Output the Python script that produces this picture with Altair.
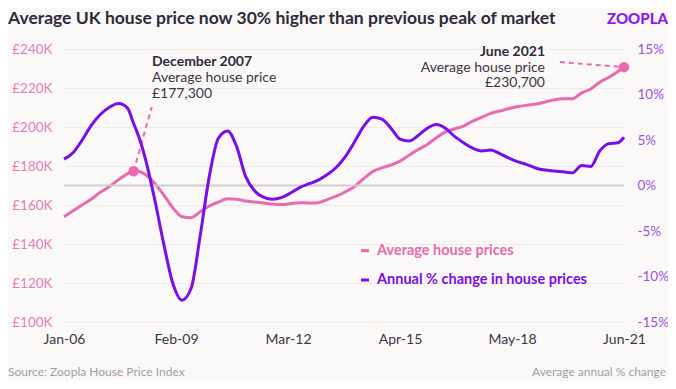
import altair as alt
import pandas as pd

# ---- data (month index: 0 = Jan-06, 185 = Jun-21) ----
months = [0, 3, 6, 9, 12, 15, 18, 21, 23, 24, 27, 30, 33, 36, 39, 42, 45, 48, 51, 54,
          57, 60, 63, 66, 69, 72, 75, 78, 81, 84, 87, 90, 93, 96, 99, 102, 105, 108,
          111, 114, 117, 120, 123, 126, 129, 132, 135, 138, 141, 144, 147, 150, 153,
          156, 159, 162, 165, 168, 171, 174, 177, 180, 183, 185]
price_k = [154.0, 157.0, 160.0, 163.0, 166.5, 169.5, 173.0, 176.0, 177.3, 177.5, 175.5,
           171.0, 165.0, 158.5, 154.0, 153.5, 156.5, 159.5, 161.5, 163.2, 163.0, 162.0,
           161.5, 161.0, 160.5, 160.2, 160.8, 161.2, 161.0, 161.2, 162.8, 164.5, 166.8,
           169.5, 173.5, 177.1, 179.0, 180.5, 182.5, 185.5, 188.5, 191.0, 194.5, 197.5,
           199.0, 200.5, 203.0, 205.0, 207.0, 208.2, 209.5, 210.5, 211.2, 211.8, 212.8,
           214.0, 214.5, 214.5, 217.5, 219.5, 223.0, 225.5, 228.5, 230.7]
annual_pct = [2.9, 3.6, 5.0, 6.6, 7.8, 8.6, 9.0, 8.5, 6.8, 6.0, 2.8, -1.6, -6.5, -10.8,
              -12.6, -11.3, -5.5, 1.0, 5.2, 6.0, 4.3, 1.0, -0.6, -1.3, -1.5, -1.3, -0.8,
              -0.2, 0.2, 0.6, 1.2, 2.0, 3.2, 4.8, 6.5, 7.5, 7.3, 6.3, 5.1, 4.9, 5.5, 6.3,
              6.7, 6.3, 5.4, 4.7, 4.1, 3.8, 3.9, 3.5, 3.0, 2.6, 2.3, 1.9, 1.7, 1.6, 1.5,
              1.4, 2.2, 2.1, 3.8, 4.6, 4.7, 5.3]

tick_months = [0, 37, 74, 111, 148, 185]
tick_labels = ["Jan-06", "Feb-09", "Mar-12", "Apr-15", "May-18", "Jun-21"]
price_ticks = [100, 120, 140, 160, 180, 200, 220, 240]
pct_ticks = [-15, -10, -5, 0, 5, 10, 15]

# annotation points: Dec-07 and Jun-21
dec_point_m, dec_point_p = [23], [177.3]
jun_point_m, jun_point_p = [185], [230.7]
dec_leader_m, dec_leader_p = [23, 29], [177.3, 210.3]
jun_leader_m, jun_leader_p = [163.8, 185], [233.3, 230.7]

PINK = "#E86BB0"
PURPLE = "#7A0EE6"
FONT = "Lato"

df = pd.DataFrame({"m": months, "price": price_k, "pct": annual_pct})

label_arr = "[" + ",".join("'%s'" % t for t in tick_labels) + "]"
x_scale = alt.Scale(domain=[0, 185], nice=False, zero=False)
x_axis = alt.Axis(values=tick_months, labelExpr=label_arr + "[round(datum.value/37)]",
                  title=None, domain=False, ticks=False, grid=False, labelPadding=10,
                  labelFlush=False, labelOverlap=False,
                  labelColor="#3B3547", labelFontSize=14, labelFont=FONT, orient="bottom")
p_scale = alt.Scale(domain=[100, 240], nice=False, zero=False)
p_axis = alt.Axis(values=price_ticks, labelExpr="'£' + datum.value + 'K'", title=None,
                  domain=False, ticks=False, grid=True, gridColor="#EEEBEA", gridWidth=1,
                  labelPadding=12, labelColor="#E57DB7", labelFontSize=13.5, labelFont=FONT,
                  labelFlush=False, orient="left")
c_scale = alt.Scale(domain=[-15, 15], nice=False, zero=False)
c_axis = alt.Axis(values=pct_ticks, labelExpr="datum.value + '%'", title=None,
                  domain=False, ticks=False, grid=False, labelPadding=13, labelFlush=False,
                  labelColor="#9A52E2", labelFontSize=13.5, labelFont=FONT, orient="right")

X = alt.X("m:Q", scale=x_scale, axis=x_axis)
YP = alt.Y("price:Q", scale=p_scale, axis=p_axis)
YC = alt.Y("pct:Q", scale=c_scale, axis=c_axis)

price_line = alt.Chart(df).mark_line(color=PINK, strokeWidth=3, interpolate="monotone").encode(
    x=X, y=YP)

def pts(ms, ps):
    return pd.DataFrame({"m": ms, "price": ps})

dec_leader = alt.Chart(pts(dec_leader_m, dec_leader_p)).mark_line(
    color=PINK, strokeWidth=2, strokeDash=[5, 4]).encode(x=X, y=YP)
jun_leader = alt.Chart(pts(jun_leader_m, jun_leader_p)).mark_line(
    color=PINK, strokeWidth=2, strokeDash=[5, 4]).encode(x=X, y=YP)
dots = alt.Chart(pts(dec_point_m + jun_point_m, dec_point_p + jun_point_p)).mark_circle(
    color=PINK, size=110, opacity=1).encode(x=X, y=YP)

zero_df = pd.DataFrame({"pct": [0]})
zero_rule = alt.Chart(zero_df).mark_rule(color="#D0CECD", strokeWidth=2).encode(y=YC)
pct_line = alt.Chart(df).mark_line(color=PURPLE, strokeWidth=3, interpolate="monotone").encode(
    x=X, y=YC)

one = pd.DataFrame({"a": [0]})

def txt(s, x, y, size=14, color="#3B3547", weight=400, align="left", baseline="alphabetic"):
    return alt.Chart(one).mark_text(text=s, fontSize=size, color=color, fontWeight=weight,
                                    align=align, baseline=baseline, font=FONT).encode(
        x=alt.value(x), y=alt.value(y))

def dash(x1, x2, y, color):
    return alt.Chart(one).mark_rule(color=color, strokeWidth=3).encode(
        x=alt.value(x1), x2=alt.value(x2), y=alt.value(y))

texts = [
    txt("Average UK house price now 30% higher than previous peak of market", -56, -25,
        size=17.5, color="#2E2A3B", weight=700),
    txt("ZOOPLA", 604, -25, size=15, color="#8A1BF0", weight=900, align="right"),
    txt("Source: Zoopla House Price Index", -56, 327, size=12, color="#A09EA6"),
    txt("Average annual % change", 602, 327, size=12, color="#A09EA6", align="right"),
    txt("December 2007", 88, 17, size=14, color="#2E2A3B", weight=700),
    txt("Average house price", 88, 33, size=14),
    txt("£177,300", 88, 48.5, size=14),
    txt("June 2021", 481, 6.5, size=14, color="#2E2A3B", weight=700, align="right"),
    txt("Average house price", 481, 22.5, size=14, align="right"),
    txt("£230,700", 481, 38, size=14, align="right"),
    dash(297, 305, 201.7, PINK),
    txt("Average house prices", 313, 201.7, size=14.5, color=PINK, weight=700,
        baseline="middle"),
    dash(297, 305, 231, PURPLE),
    txt("Annual % change in house prices", 313, 231, size=14.5, color=PURPLE, weight=700,
        baseline="middle"),
]

left = alt.layer(price_line, dec_leader, jun_leader, dots)
right = alt.layer(zero_rule, pct_line)

chart = alt.layer(left, right, *texts).resolve_scale(y="independent").properties(
    width=560, height=273,
    autosize=alt.AutoSizeParams(type="none"),
    padding={"left": 56, "top": 41, "right": 44, "bottom": 59},
    background="#FBF9F8",
).configure_view(stroke=None)

chart.save("out.html", embed_options={"renderer": "svg", "actions": False})
